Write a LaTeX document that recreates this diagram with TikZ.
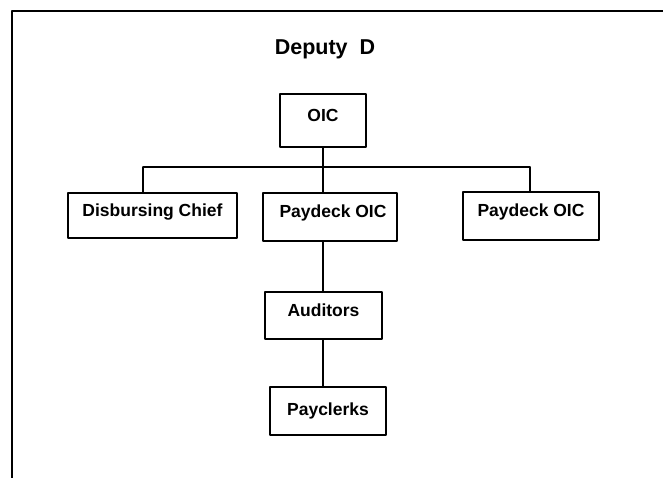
\documentclass[tikz,border=0pt]{standalone}
\usepackage{fontspec}
\setmainfont{Liberation Sans}
\usetikzlibrary{calc}

\begin{document}
\begin{tikzpicture}[line cap=round,line join=round,x=1pt,y=-1pt,
  orgbox/.style={draw,line width=1.5pt,inner sep=0pt,text height=13pt,text depth=11pt,
    font=\bfseries\fontsize{17.5}{20}\selectfont},
  link/.style={line width=1.3pt}]
\useasboundingbox (0,0) rectangle (663,478);
% frame, only top and left edge
\draw [line width=2.2pt] (12,478)-- (12,11)-- (663,11);
\node (title) at (325,49) {\bfseries\fontsize{21.5}{24}\selectfont Deputy\ \ D};
\node [orgbox,minimum width=86pt,minimum height=53pt] (oic) at (323,120.5) {OIC};
\node [orgbox,minimum width=169pt,minimum height=45pt] (chief) at (152.5,215.5) {Disbursing Chief};
\node [orgbox,minimum width=134pt,minimum height=48pt] (paymid) at (330,217) {\hspace{6pt}Paydeck OIC};
\node [orgbox,minimum width=136pt,minimum height=48pt] (payright) at (531,216) {Paydeck OIC};
\node [orgbox,minimum width=117pt,minimum height=47pt] (aud) at (323.5,315.5) {Auditors};
\node [orgbox,text depth=4pt,minimum width=116pt,minimum height=48pt] (clerks) at (328,411) {Payclerks};
\coordinate (bus) at (323,167);
\coordinate (busL) at (143,167);
\coordinate (busR) at (530,167);
\draw [link] (oic.south)-- (bus);
\draw [link] (busL)-- (busR);
\draw [link] (busL)-- (busL |- chief.north);
\draw [link] (busR)-- (busR |- payright.north);
\draw [link] (bus)-- (bus |- paymid.north);
\draw [link] (bus |- paymid.south)-- (bus |- aud.north);
\draw [link] (bus |- aud.south)-- (bus |- clerks.north);
\end{tikzpicture}
\end{document}
